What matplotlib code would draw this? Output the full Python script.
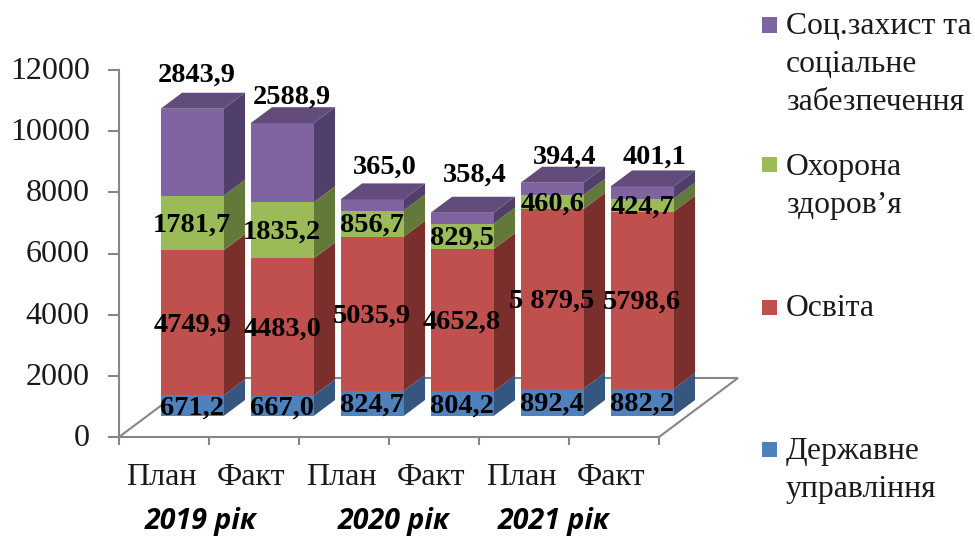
import numpy as np
import matplotlib
matplotlib.use("Agg")
import matplotlib.pyplot as plt
from matplotlib.patches import Polygon, Rectangle
from matplotlib.transforms import ScaledTranslation

# Budget spending by category, plan and actual, per year
columns = ["План", "Факт", "План", "Факт", "План", "Факт"]
years = ["2019 рік", "2020 рік", "2021 рік"]
derzhavne = [671.2, 667.0, 824.7, 804.2, 892.4, 882.2]
osvita = [4749.9, 4483.0, 5035.9, 4652.8, 5879.5, 5798.6]
okhorona = [1781.7, 1835.2, 856.7, 829.5, 460.6, 424.7]
sotszakhyst = [2843.9, 2588.9, 365.0, 358.4, 394.4, 401.1]
y_ticks = [0, 2000, 4000, 6000, 8000, 10000, 12000]

series = [derzhavne, osvita, okhorona, sotszakhyst]
legend_lines = [
    ["Державне", "управління"],
    ["Освіта"],
    ["Охорона", "здоров’я"],
    ["Соц.захист та", "соціальне", "забезпечення"],
]
front_colors = ["#4F81BD", "#C0504D", "#9BBB59", "#8064A2"]
side_colors = ["#34567F", "#7B2F2D", "#62793A", "#503F68"]
top_color = "#614C7C"
axis_color = "#868686"

W, H = 975, 536
SERIF = "Liberation Serif"

fig = plt.figure(figsize=(W / 100, H / 100), dpi=100, facecolor="white")
ax = fig.add_axes([119 / W, (H - 437) / H, 540 / W, 367 / H])
ax.set_xlim(0, 6)
ax.set_ylim(0, 12000)
ax.patch.set_visible(False)

# Oblique projection: depth 0 is the front floor edge, depth 1 the back edge
PX_X = 540 / 6
PX_Y = 367 / 12000
DEPTH_X = 79 / PX_X
DEPTH_Y = 59 / PX_Y
BAR_FRONT, BAR_BACK = 21 / 59, 37 / 59
BAR_WIDTH = 63 / PX_X


def proj(x, v, d):
    return (x + d * DEPTH_X, v + d * DEPTH_Y)


def pixel_text(px, py, s, **kw):
    fig.text(px / W, 1 - py / H, s, ha=kw.pop("ha", "center"), va="center", **kw)


def shift_px(dx, dy):
    return ScaledTranslation(dx / 100, dy / 100, fig.dpi_scale_trans)


# Floor outline
floor = [proj(0, 0, 0), proj(0, 0, 1), proj(6, 0, 1), proj(6, 0, 0)]
ax.plot(*zip(*floor), color=axis_color, lw=1.5, clip_on=False, zorder=1, solid_joinstyle="miter")

# Stacked 3D columns
values = np.array(series)
bottoms = np.vstack([np.zeros(6), np.cumsum(values, axis=0)[:-1]])
for i in range(6):
    x0 = i + 0.5 - BAR_WIDTH / 2
    x1 = x0 + BAR_WIDTH
    for s in range(len(series)):
        v0, v1 = bottoms[s, i], bottoms[s, i] + values[s, i]
        front = [proj(x0, v0, BAR_FRONT), proj(x1, v0, BAR_FRONT),
                 proj(x1, v1, BAR_FRONT), proj(x0, v1, BAR_FRONT)]
        side = [proj(x1, v0, BAR_FRONT), proj(x1, v0, BAR_BACK),
                proj(x1, v1, BAR_BACK), proj(x1, v1, BAR_FRONT)]
        ax.add_patch(Polygon(side, fc=side_colors[s], ec="none", zorder=3, clip_on=False))
        ax.add_patch(Polygon(front, fc=front_colors[s], ec="none", zorder=3, clip_on=False))
    top_v = bottoms[-1, i] + values[-1, i]
    top = [proj(x0, top_v, BAR_FRONT), proj(x1, top_v, BAR_FRONT),
           proj(x1, top_v, BAR_BACK), proj(x0, top_v, BAR_BACK)]
    ax.add_patch(Polygon(top, fc=top_color, ec="none", zorder=3, clip_on=False))

# Axes, ticks and tick labels
for side_name in ("top", "right"):
    ax.spines[side_name].set_visible(False)
for side_name in ("left", "bottom"):
    ax.spines[side_name].set_color(axis_color)
    ax.spines[side_name].set_linewidth(1.5)
ax.set_yticks(y_ticks)
ax.set_yticklabels([str(t) for t in y_ticks], family=SERIF, fontsize=23, color="#1a1a1a")
ax.tick_params(axis="y", length=8, width=1.5, color=axis_color, pad=13)
ax.set_xticks(np.arange(7))
ax.set_xticklabels([])
ax.tick_params(axis="x", which="major", length=6, width=1.5, color=axis_color)
ax.set_xticks(np.arange(6) + 0.5, minor=True)
ax.set_xticklabels(columns, minor=True, family=SERIF, fontsize=23, color="#1a1a1a")
ax.tick_params(axis="x", which="minor", length=0, pad=19)
for label in ax.get_yticklabels():
    label.set_transform(label.get_transform() + shift_px(0, 2))
for label in ax.get_xticklabels(minor=True):
    label.set_transform(label.get_transform() + shift_px(-2.5, 0))

# Value labels inside each segment, and the top series above its column
label_style = dict(family=SERIF, fontsize=20.4, fontweight="bold", color="black",
                   ha="center", va="center", zorder=5, clip_on=False)
label_overrides = {(1, 4): "5 879,5"}
top_nudge_x_px = [5, 10, 13, 13, 13, 12]
top_lift_px = [20, 12, 18, 24, 12, 15]
LABEL_DROP = 2 / PX_Y
for i in range(6):
    for s in range(len(series)):
        text = label_overrides.get((s, i), f"{values[s, i]:.1f}".replace(".", ","))
        v0 = bottoms[s, i]
        v1 = v0 + values[s, i]
        if s < len(series) - 1:
            lx, ly = proj(i + 0.5, (v0 + v1) / 2, BAR_FRONT)
        else:
            lx, ly = proj(i + 0.5 + top_nudge_x_px[i] / PX_X, v1 + top_lift_px[i] / PX_Y, BAR_BACK)
            lx -= (BAR_BACK - BAR_FRONT) * DEPTH_X
        ax.text(lx, ly - LABEL_DROP, text, **label_style)

# Year captions below the columns
for cx, year in zip([201, 394, 554], years):
    pixel_text(cx, 522, year, family="Open Sans", fontsize=20.5, fontweight="bold",
               fontstyle="italic", color="black")

# Legend, one hand-placed entry per series
legend_tops = [449, 307, 165, 25]
LINE_STEP = 38
for s, lines in enumerate(legend_lines):
    y0 = legend_tops[s]
    fig.add_artist(Rectangle((762 / W, 1 - (y0 + 7.5) / H), 15 / W, 15 / H,
                             transform=fig.transFigure, fc=front_colors[s], ec="none"))
    for k, line in enumerate(lines):
        pixel_text(786, y0 + 2 + k * LINE_STEP, line, ha="left", family=SERIF,
                   fontsize=22.8, color="#1a1a1a")

fig.savefig("out.png", dpi=100, facecolor="white")
